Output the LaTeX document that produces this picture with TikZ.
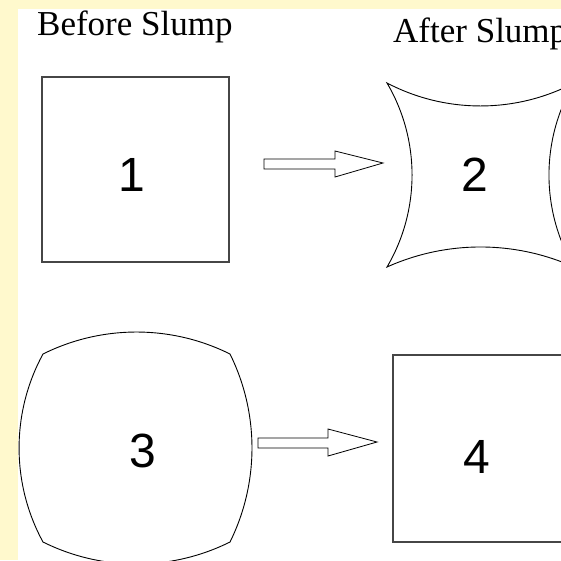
\documentclass[tikz,border=0pt]{standalone}
\usepackage{fontspec}
\setmainfont{Liberation Serif}
\newfontfamily\digitfont{Liberation Sans}
\definecolor{pagebg}{RGB}{255,249,205}
\definecolor{boxline}{RGB}{70,70,70}
\begin{document}
\begin{tikzpicture}[x=1pt,y=-1pt,
  heading/.style={font=\fontsize{35}{40}\selectfont, inner sep=0pt, anchor=base west},
  digit/.style={font=\digitfont\fontsize{48}{56}\selectfont, inner sep=0pt},
  plainbox/.style={draw=boxline, line width=1.3pt},
  curvebox/.style={draw=black, line width=0.9pt, line join=miter},
  blockarrow/.style={draw=black, line width=0.8pt, fill=white, line join=miter}]
\useasboundingbox (0,0) rectangle (561,560);
% page strip and white sheet
\fill[pagebg] (0,0) rectangle (561,560);
\fill[white] (18,9) rectangle (561,560);

\begin{scope}
\clip (0,0) rectangle (561,560);

% headings
\node[heading] (before) at (37,35) {Before Slump};
\node[heading] (after) at (393,42) {After Slump};

% 1: plain square
\draw[plainbox] (42,77) rectangle (229,262);
% 2: square whose sides are circular arcs bent inwards
\draw[curvebox] (387,83)
  .. controls (445.5,113.6) and (515.5,113.6) .. (574,83)
  .. controls (540.6,139.8) and (540.6,210.2) .. (574,267)
  .. controls (514.5,240.3) and (446.5,240.3) .. (387,267)
  .. controls (420.4,210.2) and (420.4,139.8) .. cycle;
% 3: square whose sides are circular arcs bent outwards
\draw[curvebox] (43,354)
  .. controls (101.9,324.7) and (171.1,324.7) .. (230,354)
  .. controls (259.3,413.2) and (259.3,482.8) .. (230,542)
  .. controls (171.1,571.3) and (101.9,571.3) .. (43,542)
  .. controls (11.1,483.5) and (11.1,412.5) .. cycle;
% 4: plain square
\draw[plainbox] (393,355) rectangle (580,542);

% shape numbers
\node[digit] (n1) at (132,175) {1};
\node[digit] (n2) at (475,175) {2};
\node[digit] (n3) at (143,451) {3};
\node[digit] (n4) at (477,457) {4};

% block arrows
\draw[blockarrow] (264,159) -- (335,159) -- (335,151) -- (383,163)
  -- (335,177) -- (335,169) -- (264,169) -- cycle;
\draw[blockarrow] (258,438) -- (328,438) -- (328,429) -- (377,442)
  -- (328,456) -- (328,448) -- (258,448) -- cycle;
\end{scope}
\end{tikzpicture}
\end{document}
